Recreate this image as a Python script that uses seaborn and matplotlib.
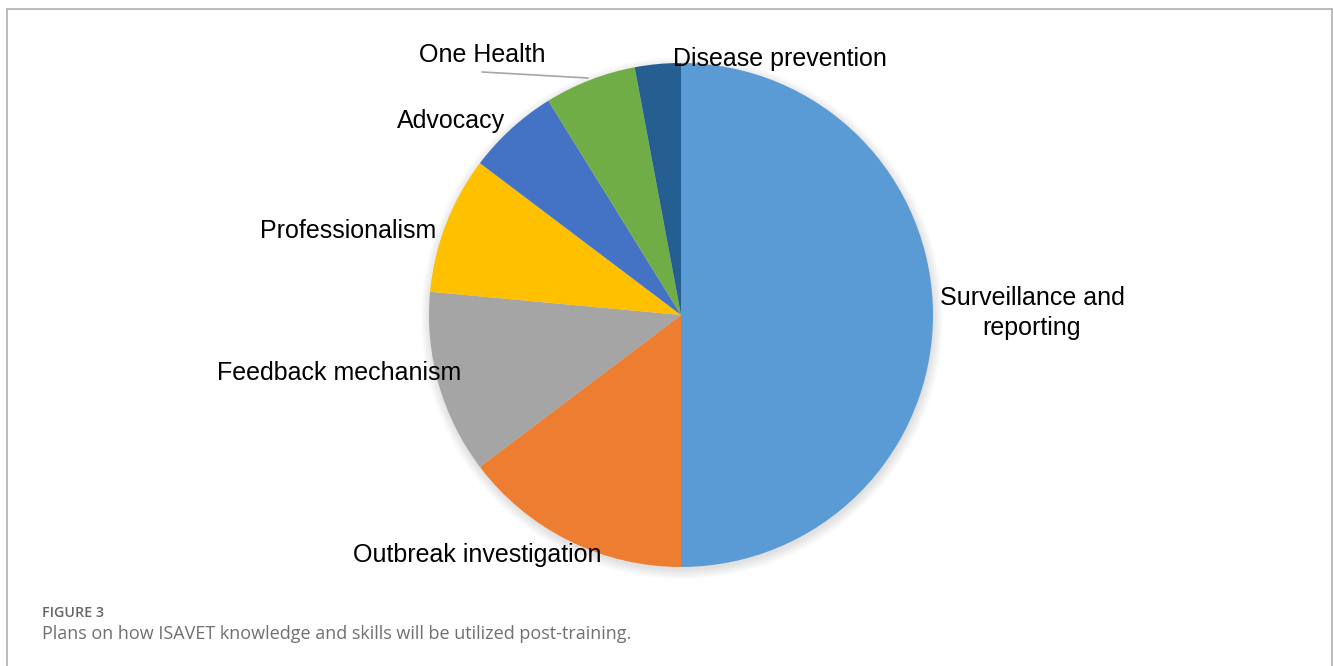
import matplotlib
matplotlib.use("Agg")
import matplotlib.pyplot as plt
import matplotlib.patches as mpatches
from matplotlib.lines import Line2D
import seaborn as sns

# data (counts)
categories = ['Surveillance and\nreporting', 'Outbreak investigation', 'Feedback mechanism',
              'Professionalism', 'Advocacy', 'One Health', 'Disease prevention']
counts = [17, 5, 4, 3, 2, 2, 1]
colors = ['#5B9BD5', '#ED7D31', '#A5A5A5', '#FFC000', '#4472C4', '#70AD47', '#255E91']

sns.set_theme(style='white')
plt.rcParams['font.family'] = ['Liberation Sans', 'DejaVu Sans']

W, H = 1333, 666
fig = plt.figure(figsize=(W / 100, H / 100), dpi=100)
fig.patch.set_facecolor('white')

# pie center (681, 315) px, radius 252 px
cx, cy, r = 681, 315, 252
ax = fig.add_axes([(cx - r) / W, (H - cy - r) / H, 2 * r / W, 2 * r / H])

# soft shadow round the pie
for i in range(10):
    ax.add_patch(mpatches.Circle((0.004, -0.012), 1 + 0.004 * i, color='black',
                                 alpha=0.012, lw=0, zorder=0, clip_on=False))

wedges, _ = ax.pie(counts, colors=colors, startangle=90, counterclock=False,
                   radius=1, wedgeprops=dict(linewidth=0))
for w in wedges:
    w.set_zorder(2)
ax.set_xlim(-1, 1)
ax.set_ylim(-1, 1)
ax.set_aspect('equal')
ax.axis('off')

def px(x, y):
    return (x - cx) / r, (cy - y) / r

label_pos = [(1032, 313), (477, 555), (339, 373), (348, 231), (451, 121), (482, 55), (780, 59)]
for lab, (x, y) in zip(categories, label_pos):
    dx, dy = px(x, y)
    ax.text(dx, dy, lab, ha='center', va='center', fontsize=18, color='black',
            linespacing=1.3, zorder=5, clip_on=False)

# leader line for One Health
x0, y0 = px(482, 72)
x1, y1 = px(588, 78)
ax.plot([x0, x1], [y0, y1], color='#A6A6A6', lw=1.2, zorder=3, clip_on=False)

# frame
fc = '#B0B0B0'
fig.add_artist(Line2D([7 / W, 1332 / W], [1 - 9 / H, 1 - 9 / H], color=fc, lw=1.2))
fig.add_artist(Line2D([7 / W, 7 / W], [0, 1 - 9 / H], color=fc, lw=1.2))
fig.add_artist(Line2D([1332 / W, 1332 / W], [0, 1 - 9 / H], color=fc, lw=1.2))

# caption
fig.text(42 / W, 1 - 613 / H, 'FIGURE 3', fontsize=10.3, color='#666666', va='center',
         family=['Open Sans', 'DejaVu Sans'], fontweight='semibold')
fig.text(42 / W, 1 - 634 / H, 'Plans on how ISAVET knowledge and skills will be utilized post-training.',
         fontsize=13, color='#707070', va='center', family=['Open Sans', 'DejaVu Sans'])

fig.savefig('out.png', dpi=100, facecolor='white')
